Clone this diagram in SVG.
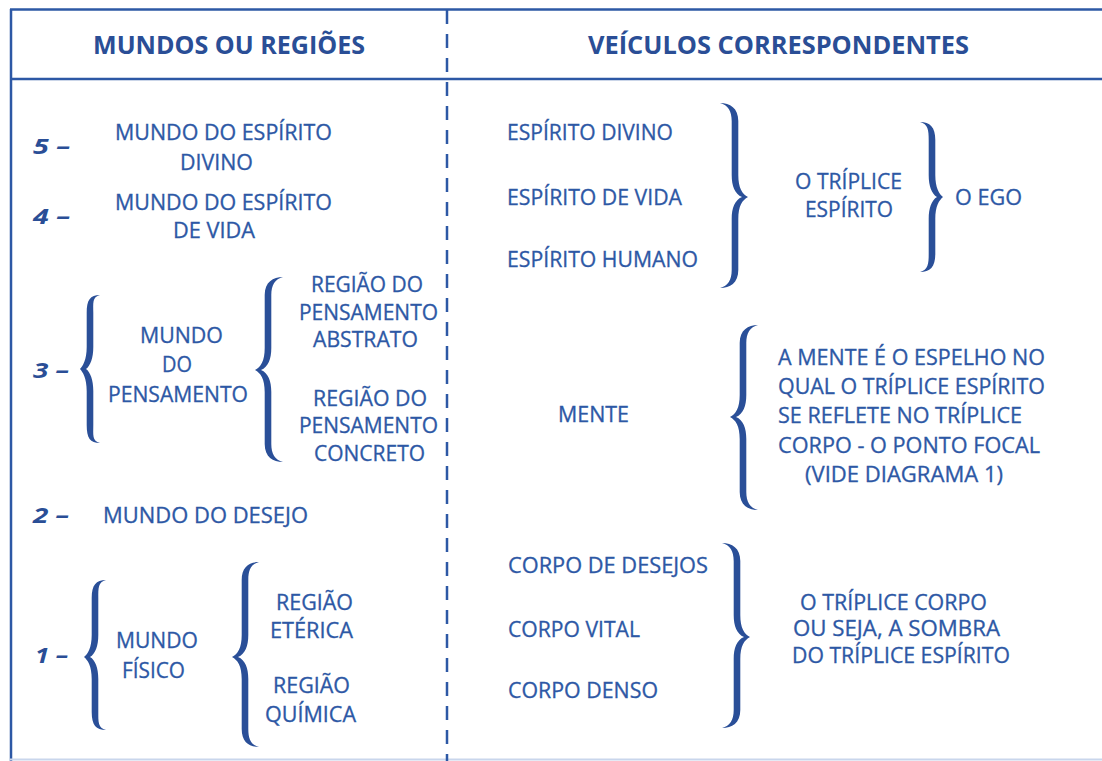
<svg xmlns="http://www.w3.org/2000/svg" width="1102" height="761" viewBox="0 0 1102 761">
<style>
.t{font-family:"Open Sans","Noto Sans","Liberation Sans",sans-serif;font-size:21px;fill:#2d58a5;stroke:#2d58a5;stroke-width:0.3;}
.h{font-family:"Open Sans","Noto Sans","Liberation Sans",sans-serif;font-size:25px;font-weight:bold;fill:#2a4e96;}
.n{font-family:"Open Sans","Noto Sans","Liberation Sans",sans-serif;font-size:22px;font-weight:bold;font-style:italic;fill:#2a4e96;}
.br{fill:#2a4f98;}
.ln{stroke:#2d58a5;stroke-width:2.5;fill:none;}
</style>
<rect width="1102" height="761" fill="#ffffff"/>
<g id="frame">
<line class="ln" x1="10" y1="9.5" x2="1102" y2="9.5"/>
<line class="ln" x1="11" y1="9" x2="11" y2="761"/>
<line class="ln" x1="10" y1="79" x2="1102" y2="79"/>
<line x1="10" y1="759.5" x2="1102" y2="759.5" stroke="#c9d6ec" stroke-width="2"/>
<line class="ln" x1="447" y1="10" x2="447" y2="761" stroke-dasharray="14 10"/>
</g>
<g id="headers">
<text class="h" x="93" y="54" textLength="272" lengthAdjust="spacingAndGlyphs">MUNDOS OU REGIÕES</text>
<text class="h" x="588" y="54" textLength="381" lengthAdjust="spacingAndGlyphs">VEÍCULOS CORRESPONDENTES</text>
</g>
<g id="numbers">
<text class="n" x="33" y="154" textLength="37" lengthAdjust="spacingAndGlyphs">5 –</text>
<text class="n" x="33" y="224" textLength="37" lengthAdjust="spacingAndGlyphs">4 –</text>
<text class="n" x="33" y="378" textLength="36" lengthAdjust="spacingAndGlyphs">3 –</text>
<text class="n" x="33" y="523" textLength="36" lengthAdjust="spacingAndGlyphs">2 –</text>
<text class="n" x="35" y="663" textLength="33" lengthAdjust="spacingAndGlyphs">1 –</text>
</g>
<g id="world5">
<text class="t" x="115" y="140" textLength="217" lengthAdjust="spacingAndGlyphs">MUNDO DO ESPÍRITO</text>
<text class="t" x="180" y="170" textLength="73" lengthAdjust="spacingAndGlyphs">DIVINO</text>
</g>
<g id="world4">
<text class="t" x="115" y="210" textLength="217" lengthAdjust="spacingAndGlyphs">MUNDO DO ESPÍRITO</text>
<text class="t" x="173" y="238" textLength="82" lengthAdjust="spacingAndGlyphs">DE VIDA</text>
</g>
<g id="world3">
<text class="t" x="140" y="343" textLength="83" lengthAdjust="spacingAndGlyphs">MUNDO</text>
<text class="t" x="162" y="372" textLength="30" lengthAdjust="spacingAndGlyphs">DO</text>
<text class="t" x="108" y="402" textLength="140" lengthAdjust="spacingAndGlyphs">PENSAMENTO</text>
</g>
<g id="region-abstract">
<text class="t" x="311" y="292" textLength="112" lengthAdjust="spacingAndGlyphs">REGIÃO DO</text>
<text class="t" x="299" y="320" textLength="139" lengthAdjust="spacingAndGlyphs">PENSAMENTO</text>
<text class="t" x="313" y="347" textLength="105" lengthAdjust="spacingAndGlyphs">ABSTRATO</text>
</g>
<g id="region-concrete">
<text class="t" x="313" y="406" textLength="114" lengthAdjust="spacingAndGlyphs">REGIÃO DO</text>
<text class="t" x="299" y="433" textLength="139" lengthAdjust="spacingAndGlyphs">PENSAMENTO</text>
<text class="t" x="314" y="461" textLength="111" lengthAdjust="spacingAndGlyphs">CONCRETO</text>
</g>
<g id="world2">
<text class="t" x="103" y="523" textLength="205" lengthAdjust="spacingAndGlyphs">MUNDO DO DESEJO</text>
</g>
<g id="world1">
<text class="t" x="116" y="648" textLength="82" lengthAdjust="spacingAndGlyphs">MUNDO</text>
<text class="t" x="122" y="678" textLength="63" lengthAdjust="spacingAndGlyphs">FÍSICO</text>
</g>
<g id="region-etheric">
<text class="t" x="276" y="610" textLength="77" lengthAdjust="spacingAndGlyphs">REGIÃO</text>
<text class="t" x="270" y="638" textLength="83" lengthAdjust="spacingAndGlyphs">ETÉRICA</text>
</g>
<g id="region-chemical">
<text class="t" x="273" y="693" textLength="77" lengthAdjust="spacingAndGlyphs">REGIÃO</text>
<text class="t" x="265" y="722" textLength="91" lengthAdjust="spacingAndGlyphs">QUÍMICA</text>
</g>
<g id="spirits">
<text class="t" x="507" y="140" textLength="166" lengthAdjust="spacingAndGlyphs">ESPÍRITO DIVINO</text>
<text class="t" x="507" y="205" textLength="175" lengthAdjust="spacingAndGlyphs">ESPÍRITO DE VIDA</text>
<text class="t" x="507" y="267" textLength="191" lengthAdjust="spacingAndGlyphs">ESPÍRITO HUMANO</text>
</g>
<g id="triple-spirit">
<text class="t" x="795" y="189" textLength="107" lengthAdjust="spacingAndGlyphs">O TRÍPLICE</text>
<text class="t" x="805" y="217" textLength="88" lengthAdjust="spacingAndGlyphs">ESPÍRITO</text>
</g>
<g id="ego">
<text class="t" x="955" y="205" textLength="67" lengthAdjust="spacingAndGlyphs">O EGO</text>
</g>
<g id="mente">
<text class="t" x="558" y="422" textLength="71" lengthAdjust="spacingAndGlyphs">MENTE</text>
</g>
<g id="mente-desc">
<text class="t" x="778" y="365" textLength="267" lengthAdjust="spacingAndGlyphs">A MENTE É O ESPELHO NO</text>
<text class="t" x="778" y="394" textLength="267" lengthAdjust="spacingAndGlyphs">QUAL O TRÍPLICE ESPÍRITO</text>
<text class="t" x="778" y="423" textLength="244" lengthAdjust="spacingAndGlyphs">SE REFLETE NO TRÍPLICE</text>
<text class="t" x="778" y="453" textLength="262" lengthAdjust="spacingAndGlyphs">CORPO - O PONTO FOCAL</text>
<text class="t" x="805" y="482" textLength="198" lengthAdjust="spacingAndGlyphs">(VIDE DIAGRAMA 1)</text>
</g>
<g id="bodies">
<text class="t" x="508" y="573" textLength="200" lengthAdjust="spacingAndGlyphs">CORPO DE DESEJOS</text>
<text class="t" x="508" y="637" textLength="132" lengthAdjust="spacingAndGlyphs">CORPO VITAL</text>
<text class="t" x="508" y="698" textLength="150" lengthAdjust="spacingAndGlyphs">CORPO DENSO</text>
</g>
<g id="triple-body">
<text class="t" x="800" y="610" textLength="187" lengthAdjust="spacingAndGlyphs">O TRÍPLICE CORPO</text>
<text class="t" x="793" y="636" textLength="207" lengthAdjust="spacingAndGlyphs">OU SEJA, A SOMBRA</text>
<text class="t" x="792" y="663" textLength="218" lengthAdjust="spacingAndGlyphs">DO TRÍPLICE ESPÍRITO</text>
</g>
<g id="connectors">
<path class="br" transform="translate(80,369)" d="M20,-74 C10,-74 6.7,-69 6.7,-56 L6.7,-22 C6.7,-9 2.7,-3 0,0 C2.7,3 6.7,9 6.7,22 L6.7,56 C6.7,69 10,74 20,74 C12,72 13.3,66 13.3,56 L13.3,22 C13.3,11 10.3,3 6,0 C10.3,-3 13.3,-11 13.3,-22 L13.3,-56 C13.3,-66 12,-72 20,-74 Z"/>
<path class="br" transform="translate(255,370)" d="M28,-93 C18,-93 9.7,-88 9.7,-75 L9.7,-22 C9.7,-9 5.7,-3 0,0 C5.7,3 9.7,9 9.7,22 L9.7,74 C9.7,87 18,92 28,92 C20,90 16.3,84 16.3,74 L16.3,22 C16.3,11 13.3,3 6,0 C13.3,-3 16.3,-11 16.3,-22 L16.3,-75 C16.3,-85 20,-91 28,-93 Z"/>
<path class="br" transform="translate(84,657)" d="M22,-77 C12,-77 7.7,-72 7.7,-59 L7.7,-22 C7.7,-9 3.7,-3 0,0 C3.7,3 7.7,9 7.7,22 L7.7,55 C7.7,68 12,73 22,73 C14,71 14.3,65 14.3,55 L14.3,22 C14.3,11 11.3,3 6,0 C11.3,-3 14.3,-11 14.3,-22 L14.3,-59 C14.3,-69 14,-75 22,-77 Z"/>
<path class="br" transform="translate(232,657)" d="M27,-95 C17,-95 9.7,-90 9.7,-77 L9.7,-22 C9.7,-9 5.7,-3 0,0 C5.7,3 9.7,9 9.7,22 L9.7,72 C9.7,85 17,90 27,90 C19,88 16.3,82 16.3,72 L16.3,22 C16.3,11 13.3,3 6,0 C13.3,-3 16.3,-11 16.3,-22 L16.3,-77 C16.3,-87 19,-93 27,-95 Z"/>
<path class="br" transform="translate(730,417)" d="M28,-92 C18,-92 9.7,-87 9.7,-74 L9.7,-22 C9.7,-9 5.7,-3 0,0 C5.7,3 9.7,9 9.7,22 L9.7,75 C9.7,88 18,93 28,93 C20,91 16.3,85 16.3,75 L16.3,22 C16.3,11 13.3,3 6,0 C13.3,-3 16.3,-11 16.3,-22 L16.3,-74 C16.3,-84 20,-90 28,-92 Z"/>
<path class="br" transform="translate(748,197) scale(-1,1)" d="M28,-94 C18,-94 9.7,-89 9.7,-76 L9.7,-22 C9.7,-9 5.7,-3 0,0 C5.7,3 9.7,9 9.7,22 L9.7,73 C9.7,86 18,91 28,91 C20,89 16.3,83 16.3,73 L16.3,22 C16.3,11 13.3,3 6,0 C13.3,-3 16.3,-11 16.3,-22 L16.3,-76 C16.3,-86 20,-92 28,-94 Z"/>
<path class="br" transform="translate(943,197) scale(-1,1)" d="M23,-75 C13,-75 7.7,-70 7.7,-57 L7.7,-22 C7.7,-9 3.7,-3 0,0 C3.7,3 7.7,9 7.7,22 L7.7,57 C7.7,70 13,75 23,75 C15,73 14.3,67 14.3,57 L14.3,22 C14.3,11 11.3,3 6,0 C11.3,-3 14.3,-11 14.3,-22 L14.3,-57 C14.3,-67 15,-73 23,-75 Z"/>
<path class="br" transform="translate(750,637) scale(-1,1)" d="M28,-94 C18,-94 9.7,-89 9.7,-76 L9.7,-22 C9.7,-9 5.7,-3 0,0 C5.7,3 9.7,9 9.7,22 L9.7,73 C9.7,86 18,91 28,91 C20,89 16.3,83 16.3,73 L16.3,22 C16.3,11 13.3,3 6,0 C13.3,-3 16.3,-11 16.3,-22 L16.3,-76 C16.3,-86 20,-92 28,-94 Z"/>
</g>
</svg>
